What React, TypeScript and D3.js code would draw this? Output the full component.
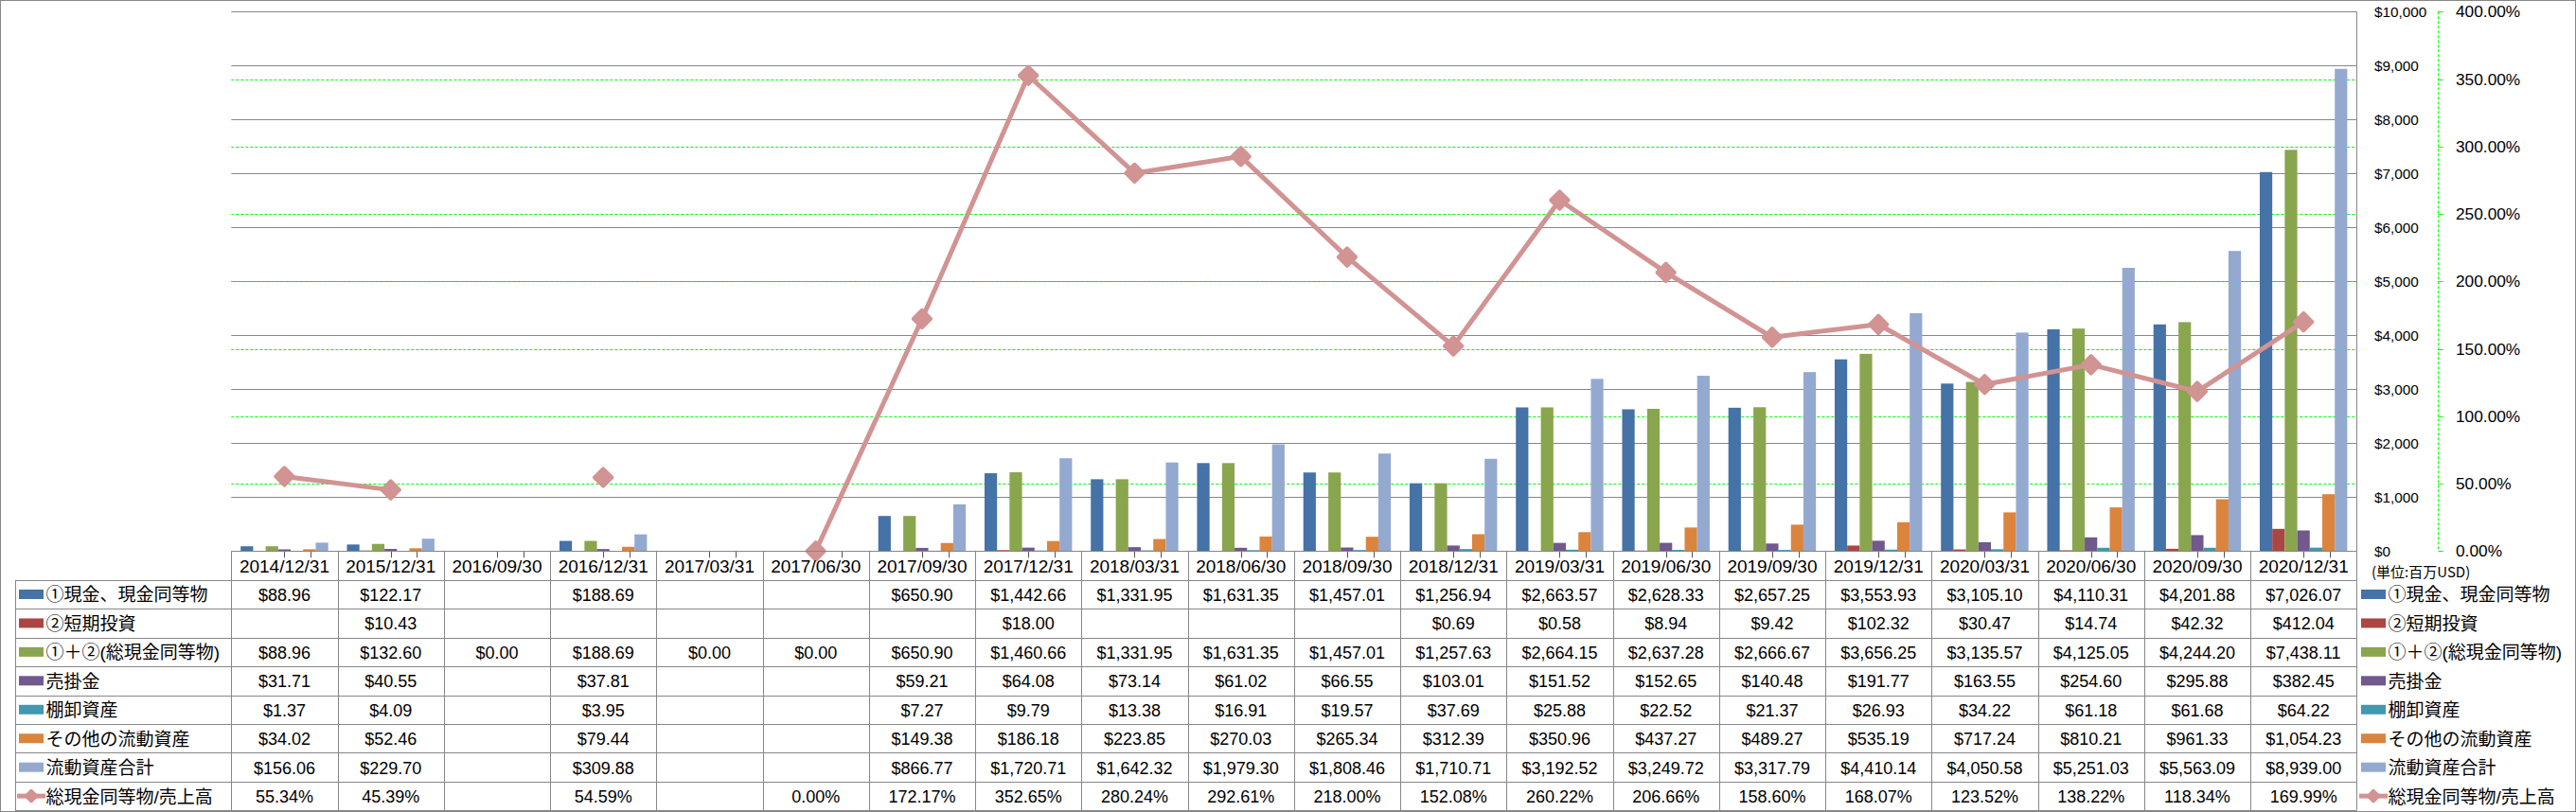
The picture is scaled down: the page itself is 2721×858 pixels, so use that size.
import * as d3 from "d3";
import React from "react";

// 決算期
const categories = [
  "2014/12/31", "2015/12/31", "2016/09/30", "2016/12/31", "2017/03/31",
  "2017/06/30", "2017/09/30", "2017/12/31", "2018/03/31", "2018/06/30",
  "2018/09/30", "2018/12/31", "2019/03/31", "2019/06/30", "2019/09/30",
  "2019/12/31", "2020/03/31", "2020/06/30", "2020/09/30", "2020/12/31",
];

const cash = [88.96, 122.17, null, 188.69, null, null, 650.9, 1442.66, 1331.95, 1631.35, 1457.01, 1256.94, 2663.57, 2628.33, 2657.25, 3553.93, 3105.1, 4110.31, 4201.88, 7026.07];
const shortInvest = [null, 10.43, null, null, null, null, null, 18.0, null, null, null, 0.69, 0.58, 8.94, 9.42, 102.32, 30.47, 14.74, 42.32, 412.04];
const totalCash = [88.96, 132.6, 0, 188.69, 0, 0, 650.9, 1460.66, 1331.95, 1631.35, 1457.01, 1257.63, 2664.15, 2637.28, 2666.67, 3656.25, 3135.57, 4125.05, 4244.2, 7438.11];
const receivables = [31.71, 40.55, null, 37.81, null, null, 59.21, 64.08, 73.14, 61.02, 66.55, 103.01, 151.52, 152.65, 140.48, 191.77, 163.55, 254.6, 295.88, 382.45];
const inventory = [1.37, 4.09, null, 3.95, null, null, 7.27, 9.79, 13.38, 16.91, 19.57, 37.69, 25.88, 22.52, 21.37, 26.93, 34.22, 61.18, 61.68, 64.22];
const otherCurrent = [34.02, 52.46, null, 79.44, null, null, 149.38, 186.18, 223.85, 270.03, 265.34, 312.39, 350.96, 437.27, 489.27, 535.19, 717.24, 810.21, 961.33, 1054.23];
const totalCurrent = [156.06, 229.7, null, 309.88, null, null, 866.77, 1720.71, 1642.32, 1979.3, 1808.46, 1710.71, 3192.52, 3249.72, 3317.79, 4410.14, 4050.58, 5251.03, 5563.09, 8939.0];
// 総現金同等物/売上高 (%)
const cashToSales = [55.34, 45.39, null, 54.59, null, 0.0, 172.17, 352.65, 280.24, 292.61, 218.0, 152.08, 260.22, 206.66, 158.6, 168.07, 123.52, 138.22, 118.34, 169.99];

const barSeries = [
  { name: "①現金、現金同等物", color: "#4572a7", values: cash },
  { name: "②短期投資", color: "#aa4643", values: shortInvest },
  { name: "①＋②(総現金同等物)", color: "#89a54e", values: totalCash },
  { name: "売掛金", color: "#71588f", values: receivables },
  { name: "棚卸資産", color: "#4198af", values: inventory },
  { name: "その他の流動資産", color: "#db843d", values: otherCurrent },
  { name: "流動資産合計", color: "#93a9cf", values: totalCurrent },
];
const lineName = "総現金同等物/売上高";
const lineColor = "#d29393";

const leftTicks = [0, 1000, 2000, 3000, 4000, 5000, 6000, 7000, 8000, 9000, 10000];
const rightTicks = [0, 50, 100, 150, 200, 250, 300, 350, 400];

const W = 2721;
const H = 858;
const margin = { left: 244.3, right: 2489.3, top: 12.3, bottom: 582.3 };
const rowH = 30.45;
const tableLeft = 16;

const latin = "'Liberation Sans', 'Noto Sans CJK JP', sans-serif";
const grid = "#878787";

const px = (v: number) => Math.round(v) + 0.5;

function Diamond({ cx, cy, r }: { cx: number; cy: number; r: number }) {
  const s = r * Math.SQRT2;
  return (
    <rect
      x={cx - s / 2}
      y={cy - s / 2}
      width={s}
      height={s}
      rx={2}
      fill={lineColor}
      transform={`rotate(45 ${cx} ${cy})`}
    />
  );
}

export default function App() {
  const x = d3.scaleBand().domain(categories).range([margin.left, margin.right]).padding(0);
  const xs = d3
    .scaleBand()
    .domain(barSeries.map((s) => s.name))
    .range([0, x.bandwidth()])
    .paddingInner(0)
    .paddingOuter(0.75);
  const y = d3.scaleLinear().domain([0, 10000]).range([margin.bottom, margin.top]);
  const y2 = d3.scaleLinear().domain([0, 400]).range([margin.bottom, margin.top]);

  const cx = (i: number) => (x(categories[i]) as number) + x.bandwidth() / 2;
  const pts = cashToSales.map((v, i) => ({ v, i }));
  const line = d3
    .line<{ v: number | null; i: number }>()
    .defined((d) => d.v !== null)
    .x((d) => cx(d.i))
    .y((d) => y2(d.v as number));

  const fmtMoney = d3.format("$,.2f");
  const fmtAxis = d3.format("$,.0f");
  const secX = 2575.5;

  const tableRows = [...barSeries.map((s) => s.name), lineName];
  const rowTop = (r: number) => margin.bottom + rowH * (r + 1);
  const tableBottom = rowTop(tableRows.length);

  return (
    <svg
      width={W}
      height={H}
      style={{ position: "absolute", left: 0, top: 0, display: "block", background: "#fff" }}
    >
      <rect x={0.5} y={0.5} width={W - 1} height={H - 1} fill="#fff" stroke={grid} />

      {/* gridlines */}
      {leftTicks.slice(1).map((t) => (
        <line key={"g" + t} x1={margin.left} x2={margin.right} y1={px(y(t))} y2={px(y(t))} stroke={grid} strokeWidth={1} />
      ))}
      {rightTicks.slice(1, -1).map((t) => (
        <line
          key={"gg" + t}
          x1={margin.left}
          x2={margin.right}
          y1={px(y2(t))}
          y2={px(y2(t))}
          stroke="#00ff00"
          strokeWidth={1}
          strokeDasharray="3,2"
        />
      ))}
      <line x1={px(margin.right)} x2={px(margin.right)} y1={margin.top} y2={margin.bottom} stroke={grid} />

      {/* bars */}
      {barSeries.map((s) =>
        s.values.map((v, i) =>
          v === null || v === 0 ? null : (
            <rect
              key={s.name + i}
              x={(x(categories[i]) as number) + (xs(s.name) as number)}
              y={y(v)}
              width={xs.bandwidth()}
              height={y(0) - y(v)}
              fill={s.color}
            />
          )
        )
      )}

      {/* small ticks below baseline */}
      {categories.map((c, i) => (
        <g key={"tk" + c} stroke="#555">
          <line x1={px(cx(i))} x2={px(cx(i))} y1={margin.bottom} y2={margin.bottom + 7} />
          <line x1={px(cx(i) + xs.bandwidth() * 2.1)} x2={px(cx(i) + xs.bandwidth() * 2.1)} y1={margin.bottom} y2={margin.bottom + 7} />
        </g>
      ))}

      {/* ratio line */}
      <path d={line(pts) || ""} fill="none" stroke={lineColor} strokeWidth={5} strokeLinejoin="round" />
      {pts.map((p) => (p.v === null ? null : <Diamond key={"d" + p.i} cx={cx(p.i)} cy={y2(p.v)} r={12} />))}

      {/* primary axis labels (right side) */}
      {leftTicks.map((t) => (
        <text key={"l" + t} x={2508} y={y(t)} dominantBaseline="central" fontFamily={latin} fontSize={15.3} fill="#000">
          {fmtAxis(t)}
        </text>
      ))}

      {/* secondary axis */}
      <line x1={secX} x2={secX} y1={margin.top} y2={margin.bottom} stroke="#00ff00" strokeDasharray="3,2" />
      {rightTicks.map((t) => (
        <g key={"r" + t}>
          <line x1={secX} x2={secX + 5} y1={px(y2(t))} y2={px(y2(t))} stroke="#00ff00" />
          <text x={2594} y={y2(t)} dominantBaseline="central" fontFamily={latin} fontSize={17.3} fill="#000">
            {t.toFixed(2) + "%"}
          </text>
        </g>
      ))}

      {/* data table */}
      <g stroke={grid} strokeWidth={1}>
        <line x1={margin.left} x2={margin.right} y1={px(margin.bottom)} y2={px(margin.bottom)} />
        {tableRows.map((r, k) => (
          <line key={"hl" + k} x1={tableLeft} x2={margin.right} y1={px(rowTop(k))} y2={px(rowTop(k))} />
        ))}
        <line x1={tableLeft} x2={margin.right} y1={px(tableBottom)} y2={px(tableBottom)} />
        <line x1={px(tableLeft)} x2={px(tableLeft)} y1={rowTop(0)} y2={tableBottom} />
        {categories.map((c) => (
          <line key={"vl" + c} x1={px(x(c) as number)} x2={px(x(c) as number)} y1={margin.bottom} y2={tableBottom} />
        ))}
        <line x1={px(margin.right)} x2={px(margin.right)} y1={margin.bottom} y2={tableBottom} />
      </g>

      {categories.map((c, i) => (
        <text
          key={"h" + c}
          x={cx(i)}
          y={margin.bottom + rowH / 2 + 1}
          textAnchor="middle"
          dominantBaseline="central"
          fontFamily={latin}
          fontSize={19}
        >
          {c}
        </text>
      ))}

      {barSeries.map((s, k) =>
        s.values.map((v, i) =>
          v === null ? null : (
            <text
              key={"t" + k + "-" + i}
              x={cx(i)}
              y={rowTop(k) + rowH / 2 + 1}
              textAnchor="middle"
              dominantBaseline="central"
              fontFamily={latin}
              fontSize={18}
            >
              {fmtMoney(v)}
            </text>
          )
        )
      )}
      {cashToSales.map((v, i) =>
        v === null ? null : (
          <text
            key={"p" + i}
            x={cx(i)}
            y={rowTop(barSeries.length) + rowH / 2 + 1}
            textAnchor="middle"
            dominantBaseline="central"
            fontFamily={latin}
            fontSize={18}
          >
            {v.toFixed(2) + "%"}
          </text>
        )
      )}

      {/* legend keys inside table and on the right */}
      {[tableLeft + 4, 2494].map((lx, side) => (
        <g key={"lg" + side}>
          {barSeries.map((s, k) => (
            <g key={s.name}>
              <rect x={lx} y={rowTop(k) + rowH / 2 - 5} width={26} height={10} fill={s.color} />
              <text
                x={lx + 28.5}
                y={rowTop(k) + rowH / 2 + 1}
                dominantBaseline="central"
                fontFamily={latin}
                fontSize={19}
              >
                {s.name}
              </text>
            </g>
          ))}
          <line
            x1={lx - 2}
            x2={lx + 28}
            y1={rowTop(barSeries.length) + rowH / 2}
            y2={rowTop(barSeries.length) + rowH / 2}
            stroke={lineColor}
            strokeWidth={5}
          />
          <Diamond cx={lx + 13} cy={rowTop(barSeries.length) + rowH / 2} r={8} />
          <text
            x={lx + 28.5}
            y={rowTop(barSeries.length) + rowH / 2 + 1}
            dominantBaseline="central"
            fontFamily={latin}
            fontSize={19}
          >
            {lineName}
          </text>
        </g>
      ))}

      <text x={2505} y={603} dominantBaseline="central" fontFamily="'Noto Sans CJK JP', sans-serif" fontSize={15}>
        (単位:百万USD)
      </text>
    </svg>
  );
}
